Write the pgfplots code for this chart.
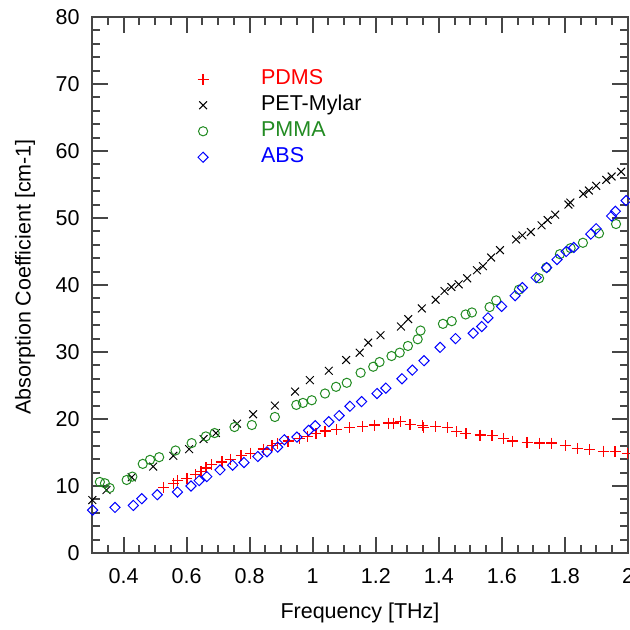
\documentclass[border=0pt]{standalone}
\usepackage{pgfplots}
\pgfplotsset{compat=1.18}
\usepackage{fontspec}
\setmainfont{Liberation Sans}
\usetikzlibrary{calc}
\definecolor{pdmsred}{RGB}{255,0,0}
\definecolor{pmmagreen}{RGB}{34,139,34}
\definecolor{absblue}{RGB}{0,0,255}
\definecolor{axisgray}{RGB}{70,70,70}
\newcommand{\chartfont}{\fontsize{21.5}{25}\selectfont}

\begin{document}
\begin{tikzpicture}
\begin{axis}[
  scale only axis, width=536pt, height=536pt,
  xmin=0.3, xmax=2, ymin=0, ymax=80,
  axis on top,
  xtick={0.4,0.6,0.8,1,1.2,1.4,1.6,1.8,2},
  xticklabels={0.4,0.6,0.8,1,1.2,1.4,1.6,1.8,2},
  minor xtick={0.35,0.45,0.5,0.55,0.65,0.7,0.75,0.85,0.9,0.95,1.05,1.1,1.15,1.25,1.3,1.35,1.45,1.5,1.55,1.65,1.7,1.75,1.85,1.9,1.95},
  ytick={0,10,20,30,40,50,60,70,80},
  minor ytick={2,4,6,8,12,14,16,18,22,24,26,28,32,34,36,38,42,44,46,48,52,54,56,58,62,64,66,68,72,74,76,78},
  xmajorticks=true, ymajorticks=true, xminorticks=true, yminorticks=true,
  tick align=inside,
  major tick length=16pt, minor tick length=8pt,
  every major tick/.append style={draw=axisgray, line width=2pt},
  every minor tick/.append style={draw=axisgray, line width=2pt},
  axis line style={draw=axisgray, line width=1.8pt},
  /pgf/number format/assume math mode=true,
  tick label style={font=\chartfont},
  xticklabel style={yshift=-12pt},
  yticklabel style={xshift=-9pt},
  label style={font=\chartfont},
  xlabel={Frequency [THz]},
  ylabel={Absorption Coefficient [cm-1]},
  xlabel style={at={(axis description cs:0.5,-0.112)}, anchor=center},
  ylabel style={at={(axis description cs:-0.125,0.515)}, anchor=center},
  legend style={draw=none, fill=none, inner sep=0pt,
    at={(axis cs:0.620,72.6)}, anchor=north west,
    font=\chartfont, row sep=1pt,
    nodes={text height=16pt, text depth=5pt, inner sep=2pt}},
  legend cell align=left,
  legend image code/.code={%
    \path[draw=none, fill=none] (-10pt,0pt) rectangle (56pt,0.1pt);
    \draw[#1] plot coordinates {(0pt,0pt)};},
]

% PDMS
\addplot[only marks, mark=+, mark size=5.5pt, color=pdmsred, mark options={draw=pdmsred, line width=1.3pt}]
coordinates {
(0.527,9.8) (0.558,10.4) (0.572,10.8) (0.601,11.1) (0.629,11.7) (0.646,12.2)
(0.662,12.7) (0.678,13.2) (0.712,13.6) (0.740,14.0) (0.773,14.5) (0.802,14.9)
(0.843,15.5) (0.871,16.0) (0.888,16.3) (0.922,16.7) (0.958,17.1) (0.983,17.4)
(1.010,17.8) (1.039,18.2) (1.076,18.4) (1.117,18.7) (1.159,18.9) (1.197,19.1)
(1.240,19.4) (1.257,19.4) (1.279,19.6) (1.309,19.2) (1.349,19.0) (1.352,18.7)
(1.389,18.9) (1.427,18.7) (1.457,18.1) (1.486,17.8) (1.531,17.6) (1.569,17.5)
(1.605,17.1) (1.634,16.7) (1.680,16.5) (1.719,16.4) (1.758,16.4) (1.801,16.0)
(1.839,15.6) (1.878,15.4) (1.922,15.2) (1.959,15.1) (1.998,14.8)
};
\addlegendentry{\textcolor{pdmsred}{PDMS}}

% PET-Mylar
\addplot[only marks, mark=x, mark size=5.5pt, color=black, mark options={draw=black, line width=1pt}]
coordinates {
(0.301,7.9) (0.346,9.4) (0.426,11.3) (0.494,12.9) (0.558,14.5) (0.608,15.5)
(0.654,17.0) (0.693,17.9) (0.760,19.3) (0.811,20.7) (0.880,22.0) (0.944,24.1)
(0.991,25.8) (1.051,27.2) (1.106,28.8) (1.149,29.9) (1.176,31.4) (1.215,32.5)
(1.280,33.8) (1.303,34.9) (1.346,36.5) (1.390,37.8) (1.418,39.1) (1.440,39.7)
(1.463,40.1) (1.490,41.0) (1.521,42.2) (1.540,42.8) (1.566,44.1) (1.594,45.2)
(1.645,46.8) (1.665,47.4) (1.692,47.9) (1.726,48.9) (1.745,49.7) (1.769,50.5)
(1.811,52.0) (1.817,52.3) (1.858,53.6) (1.876,54.1) (1.899,54.8) (1.931,55.7)
(1.948,56.2) (1.978,56.9)
};
\addlegendentry{\textcolor{black}{PET-Mylar}}

% PMMA
\addplot[only marks, mark=o, mark size=4.6pt, color=pmmagreen, mark options={draw=pmmagreen, fill=none, line width=1pt}]
coordinates {
(0.299,11.3) (0.325,10.6) (0.341,10.4) (0.356,9.7) (0.410,10.9) (0.428,11.4)
(0.461,13.3) (0.484,13.9) (0.513,14.3) (0.565,15.3) (0.616,16.4) (0.661,17.4)
(0.689,17.9) (0.752,18.8) (0.807,19.1) (0.880,20.3) (0.948,22.1) (0.969,22.4)
(0.997,22.8) (1.039,23.8) (1.074,24.8) (1.108,25.4) (1.152,26.9) (1.192,27.8)
(1.212,28.5) (1.250,29.4) (1.276,29.9) (1.302,30.9) (1.333,31.9) (1.342,33.2)
(1.413,34.2) (1.441,34.6) (1.485,35.6) (1.505,35.9) (1.561,36.7) (1.582,37.7)
(1.654,39.3) (1.718,41.0) (1.741,42.6) (1.784,44.6) (1.818,45.5) (1.857,46.3)
(1.908,47.7) (1.962,49.1)
};
\addlegendentry{\textcolor{pmmagreen}{PMMA}}

% ABS
\addplot[only marks, mark=square, mark size=3.6pt, color=absblue, mark options={draw=absblue, fill=none, rotate=45, line width=1pt}]
coordinates {
(0.302,6.4) (0.373,6.8) (0.431,7.1) (0.458,8.1) (0.507,8.7) (0.571,9.1)
(0.614,10.0) (0.640,10.8) (0.664,11.4) (0.706,12.4) (0.746,13.1) (0.782,13.5)
(0.826,14.4) (0.855,15.1) (0.889,15.8) (0.910,16.9) (0.950,17.3) (0.987,18.3)
(1.008,19.0) (1.051,19.6) (1.084,20.5) (1.118,21.9) (1.155,22.6) (1.204,23.8)
(1.232,24.6) (1.283,26.0) (1.316,27.3) (1.353,28.7) (1.404,30.7) (1.453,32.0)
(1.509,32.8) (1.536,33.8) (1.556,35.1) (1.599,36.8) (1.642,38.4) (1.665,39.6)
(1.709,41.1) (1.742,42.6) (1.775,43.8) (1.804,45.0) (1.828,45.6) (1.882,47.6)
(1.899,48.4) (1.948,50.3) (1.960,51.0) (1.994,52.6)
};
\addlegendentry{\textcolor{absblue}{ABS}}

\end{axis}
\pgfresetboundingbox
\path[use as bounding box] ($(current axis.south west)+(-92pt,-77pt)$) rectangle ($(current axis.north east)+(2pt,17pt)$);
\end{tikzpicture}
\end{document}
